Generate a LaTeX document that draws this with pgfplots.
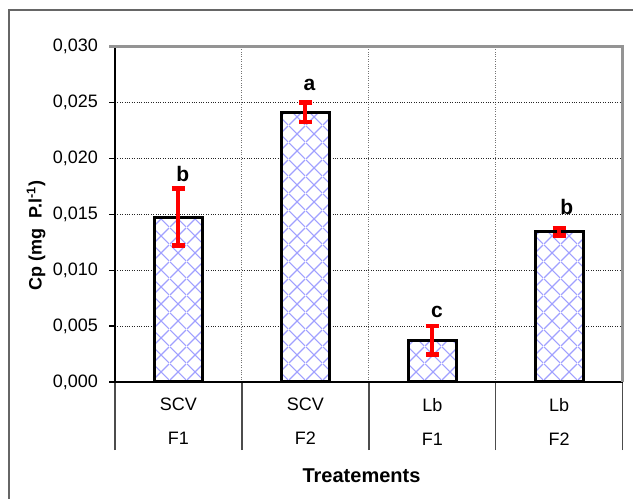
\documentclass[border=0pt]{standalone}
\usepackage{fontspec}
\setmainfont{Liberation Sans}
\usepackage{pgfplots}
\pgfplotsset{compat=1.18}
\usetikzlibrary{patterns.meta}
\definecolor{hatch}{RGB}{160,160,255}
\pgfdeclarepattern{name=bigcross, type=uncolored,
  bottom left={\pgfpoint{0pt}{0pt}}, top right={\pgfpoint{17bp}{17bp}},
  tile size={\pgfpoint{17bp}{17bp}},
  code={\pgfsetlinewidth{1.2bp}%
    \pgfpathmoveto{\pgfpoint{0pt}{0pt}}\pgfpathlineto{\pgfpoint{17bp}{17bp}}%
    \pgfpathmoveto{\pgfpoint{0pt}{17bp}}\pgfpathlineto{\pgfpoint{17bp}{0pt}}%
    \pgfusepath{stroke}}}
\begin{document}
\begin{tikzpicture}[x=1bp,y=1bp]
\useasboundingbox (0,0) rectangle (633,499);
\draw[color=black!60, line width=1.5bp] (9,-5) -- (9,489) -- (640,489);
\begin{axis}[
  at={(115bp,117bp)}, anchor=south west,
  width=507.7bp, height=335.3bp, scale only axis, clip=false,
  xmin=-0.5, xmax=3.5, ymin=0, ymax=0.03,
  axis lines=left, axis line style={-, line width=2bp, black},
  xtick={0,1,2,3}, xticklabels={SCV\\F1, SCV\\F2, Lb\\F1, Lb\\F2},
  major x tick style={draw=none},
  minor xtick={-0.5,0.5,1.5,2.5,3.5},
  minor x tick style={line width=1.3bp, color=black!70},
  minor tick length=68bp,
  major tick length=6bp,
  tick align=outside,
  xminorgrids=true, minor x grid style={dotted, black!55, line width=1bp},
  ymajorgrids=true, major y grid style={dotted, black!85, line width=0.9bp},
  ytick={0,0.005,0.01,0.015,0.02,0.025,0.03},
  scaled y ticks=false,
  yticklabel style={font=\fontsize{18bp}{21.6bp}\selectfont, inner sep=0pt, xshift=-11bp,
    /pgf/number format/.cd, fixed, fixed zerofill, precision=3, use comma, assume math mode=true},
  major y tick style={line width=1.3bp, black},
  xticklabel style={font=\fontsize{18bp}{34bp}\selectfont, align=center, inner sep=0pt, anchor=north, yshift=-10bp},
  xlabel={Treatements},
  every axis x label/.style={at={(rel axis cs:0.4855,0)}, anchor=base, yshift=-100.7bp, font=\bfseries\fontsize{20bp}{24bp}\selectfont},
  ylabel={Cp (mg\ \ P.l\textsuperscript{-1})},
  every axis y label/.style={at={([xshift=-79bp]rel axis cs:0,0.437)}, rotate=90, anchor=center, font=\bfseries\fontsize{18bp}{22bp}\selectfont},
]
\addplot[ybar, bar width=48bp, draw=black, line width=3bp, preaction={fill=white},
  pattern=bigcross, pattern color=hatch,
  error bars/.cd, y dir=both, y explicit,
  error bar style={red, line width=4bp},
  error mark options={rotate=90, red, mark size=6.5bp, line width=4.5bp}]
  coordinates {(0,0.01476) +- (0,0.00254) (1,0.02413) +- (0,0.00086) (2,0.00375) +- (0,0.00127) (3,0.01345) +- (0,0.00035)};
\addplot[draw=none, mark=none, nodes near coords, point meta=explicit symbolic,
  every node near coord/.style={anchor=base, inner sep=0pt, font=\bfseries\fontsize{21bp}{24bp}\selectfont}]
  coordinates {(0.035,0.01798)[b] (1.032,0.02606)[a] (2.037,0.00573)[c] (3.059,0.01503)[b]};
\draw[line width=2.5bp, color=black!42] ([xshift=-6bp]rel axis cs:0,1) -- (rel axis cs:1,1) -- (rel axis cs:1,0);
\end{axis}
\end{tikzpicture}
\end{document}
